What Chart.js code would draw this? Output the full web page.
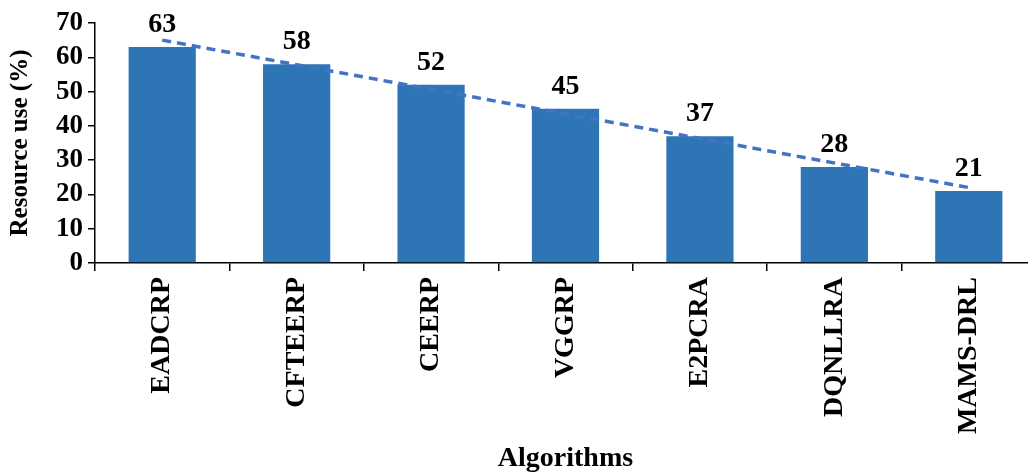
<!DOCTYPE html>
<html>
<head>
<meta charset="utf-8">
<script src="https://cdn.jsdelivr.net/npm/chart.js@4.4.1/dist/chart.umd.min.js"></script>
<style>
html,body{margin:0;padding:0;background:#fff;overflow:hidden;}
#wrap{width:1036px;height:476px;position:relative;}
</style>
</head>
<body>
<div id="wrap"><canvas id="graph"></canvas></div>
<script>

const algorithms=["EADCRP","CFTEERP","CEERP","VGGRP","E2PCRA","DQNLLRA","MAMS-DRL"];
const resourceUse=[63,58,52,45,37,28,21];
// dashed trend line at first and last bar
const trendLine=[65,null,null,null,null,null,22];
const yTicks=[0,10,20,30,40,50,60,70];

const fontFam="'Liberation Serif','Times New Roman',serif";

const valueLabels={
id:"valueLabels",
afterDatasetsDraw(chart){
const ctx=chart.ctx;
const meta=chart.getDatasetMeta(1);
ctx.save();
ctx.font="bold 28px "+fontFam;
ctx.fillStyle="#000";
ctx.textAlign="center";
ctx.textBaseline="alphabetic";
meta.data.forEach((bar,i)=>{
ctx.fillText(resourceUse[i],bar.x,bar.y-15);
});
ctx.restore();
}
};

const ctx=document.getElementById("graph");

new Chart(ctx,{
data:{
labels:algorithms,
datasets:[
{
type:'line',
label:"Trend",
data:trendLine,
spanGaps:true,
borderColor:"#4472C4",
borderWidth:3.5,
borderDash:[9,6],
pointRadius:0,
order:0
},
{
type:'bar',
label:"Resource use",
data:resourceUse,
backgroundColor:"#2E75B6",
categoryPercentage:1,
barPercentage:0.5,
order:1
}
]
},
options:{
responsive:true,
maintainAspectRatio:false,
animation:false,
layout:{padding:{top:23,right:0,left:0,bottom:0}},
plugins:{legend:{display:false},tooltip:{enabled:false}},
scales:{
x:{
offset:true,
grid:{display:true,drawOnChartArea:false,drawTicks:true,tickLength:8,color:"#000",lineWidth:1.5},
border:{display:true,color:"#000",width:1.5},
ticks:{
maxRotation:90,minRotation:90,padding:6,autoSkip:false,
color:"#000",
font:{family:fontFam,size:28,weight:"bold"}
},
title:{
display:true,text:"Algorithms",color:"#000",
font:{family:fontFam,size:28,weight:"bold"},
padding:{top:0,bottom:0}
},
afterFit(scale){scale.height=213;}
},
y:{
min:0,max:70,
afterBuildTicks(scale){scale.ticks=yTicks.map(v=>({value:v}));},
grid:{display:true,drawOnChartArea:false,drawTicks:true,tickLength:7,color:"#000",lineWidth:1.5},
border:{display:true,color:"#000",width:1.5},
ticks:{
padding:5,autoSkip:false,
color:"#000",
font:{family:fontFam,size:27,weight:"bold",lineHeight:1}
},
title:{
display:true,text:"Resource use (%)",color:"#000",
font:{family:fontFam,size:25,weight:"bold"},
padding:{top:6,bottom:4}
},
afterFit(scale){scale.width=95;}
}
}
},
plugins:[valueLabels]
});

</script>
</body>
</html>
